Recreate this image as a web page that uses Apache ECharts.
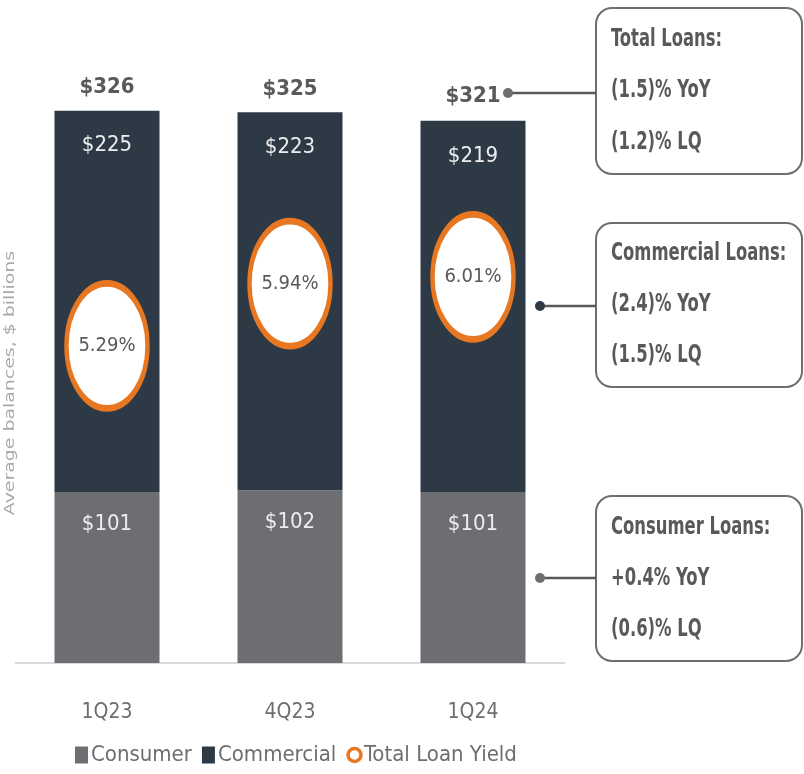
<!DOCTYPE html>
<html>
<head>
<meta charset="utf-8">
<script src="https://cdn.jsdelivr.net/npm/echarts@6/dist/echarts.min.js"></script>
<style>html,body{margin:0;padding:0;background:#fff}#c{width:804px;height:774px}</style>
</head>
<body>
<div id="c"></div>
<script>
const categories = ['1Q23', '4Q23', '1Q24'];
const consumer = [101, 102, 101];
const commercial = [225, 223, 219];
const totals = [326, 325, 321];
const loanYield = [5.29, 5.94, 6.01];
const boxes = [
  ['Total Loans:', '(1.5)% YoY', '(1.2)% LQ'],
  ['Commercial Loans:', '(2.4)% YoY', '(1.5)% LQ'],
  ['Consumer Loans:', '+0.4% YoY', '(0.6)% LQ']
];
const axisName = 'Average balances, $ billions';

const NARROW = "'DejaVu Sans Condensed', 'Liberation Sans Narrow', sans-serif";
const TXT = '#58595b';
const CONS = '#6d6e71';
const COMM = '#2d3a45';
const ORANGE = '#e87722';

const chart = echarts.init(document.getElementById('c'), null, {renderer: 'canvas'});

const boxLayout = [
  {top: 8, bottom: 174, dotX: 508, dotY: 93, dotColor: CONS},
  {top: 223, bottom: 387, dotX: 540, dotY: 306, dotColor: COMM},
  {top: 496, bottom: 661, dotX: 540, dotY: 578, dotColor: CONS}
];
const graphics = [];
boxLayout.forEach((b, i) => {
  graphics.push({
    type: 'rect', shape: {x: 596, y: b.top, width: 206, height: b.bottom - b.top, r: 16},
    style: {fill: '#fff', stroke: CONS, lineWidth: 2}, z: 10
  });
  graphics.push({
    type: 'line', shape: {x1: b.dotX, y1: b.dotY, x2: 596, y2: b.dotY},
    style: {stroke: TXT, lineWidth: 2.5}, z: 10
  });
  graphics.push({
    type: 'circle', shape: {cx: b.dotX, cy: b.dotY, r: 5},
    style: {fill: b.dotColor}, z: 11
  });
  const h = b.bottom - b.top;
  boxes[i].forEach((t, j) => {
    graphics.push({
      type: 'text', x: 611, y: b.top + h * (0.19 + 0.31 * j), scaleX: 0.76,
      style: {text: t, font: 'bold 24px ' + NARROW, fill: TXT, textVerticalAlign: 'middle'}, z: 12
    });
  });
});
graphics.push({
  type: 'text', x: 10, y: 383, rotation: Math.PI / 2, scaleX: 1.35,
  style: {text: axisName, font: '14px DejaVu Sans', fill: '#a7a9ac', textAlign: 'center', textVerticalAlign: 'middle'},
  z: 12
});

chart.setOption({
  animation: false,
  backgroundColor: '#fff',
  grid: {left: 15.5, right: 239.5, top: 70, bottom: 111},
  xAxis: {
    type: 'category', data: categories,
    axisLine: {lineStyle: {color: '#d9dadb', width: 2}},
    axisTick: {show: false},
    axisLabel: {color: CONS, fontFamily: NARROW, fontSize: 21, margin: 39}
  },
  yAxis: [
    {
      type: 'value', min: 0, max: 350,
      axisLine: {show: false}, axisTick: {show: false}, axisLabel: {show: false}, splitLine: {show: false}
    },
    {
      type: 'value', min: 1.98, max: 8.17, show: false
    }
  ],
  legend: {
    bottom: 3, left: 70, itemGap: 10, itemWidth: 13, itemHeight: 17,
    data: [
      {name: 'Consumer', icon: 'rect'},
      {name: 'Commercial', icon: 'rect'},
      {name: 'Total Loan Yield', icon: 'circle', itemStyle: {color: '#fff', borderColor: ORANGE, borderWidth: 3.5}}
    ],
    textStyle: {color: CONS, fontFamily: NARROW, fontSize: 22, padding: [0, 0, 0, -2]}
  },
  series: [
    {
      name: 'Consumer', type: 'bar', stack: 'loans', data: consumer, barWidth: 105,
      itemStyle: {color: CONS},
      label: {show: true, position: 'insideTop', distance: 21, color: '#eceded',
        fontFamily: NARROW, fontSize: 22, formatter: p => '$' + p.value}
    },
    {
      name: 'Commercial', type: 'bar', stack: 'loans', data: commercial, barWidth: 105,
      itemStyle: {color: COMM},
      label: {show: true, position: 'insideTop', distance: 24, color: '#eceded',
        fontFamily: NARROW, fontSize: 22, formatter: p => '$' + p.value}
    },
    {
      name: 'Total', type: 'scatter', data: totals, symbolSize: 0, silent: true,
      itemStyle: {opacity: 1},
      label: {show: true, position: 'top', distance: 12, color: TXT, opacity: 1,
        fontFamily: NARROW, fontWeight: 'bold', fontSize: 22, formatter: p => '$' + p.value}
    },
    {
      name: 'Total Loan Yield', type: 'scatter', yAxisIndex: 1, data: loanYield,
      symbol: 'circle', symbolSize: [81, 125],
      itemStyle: {color: '#fff', borderColor: ORANGE, borderWidth: 5.5, opacity: 1},
      label: {show: true, position: 'inside', color: TXT, fontFamily: NARROW, fontSize: 20,
        formatter: p => p.value.toFixed(2) + '%'},
      z: 5
    }
  ],
  graphic: graphics
});
</script>
</body>
</html>
